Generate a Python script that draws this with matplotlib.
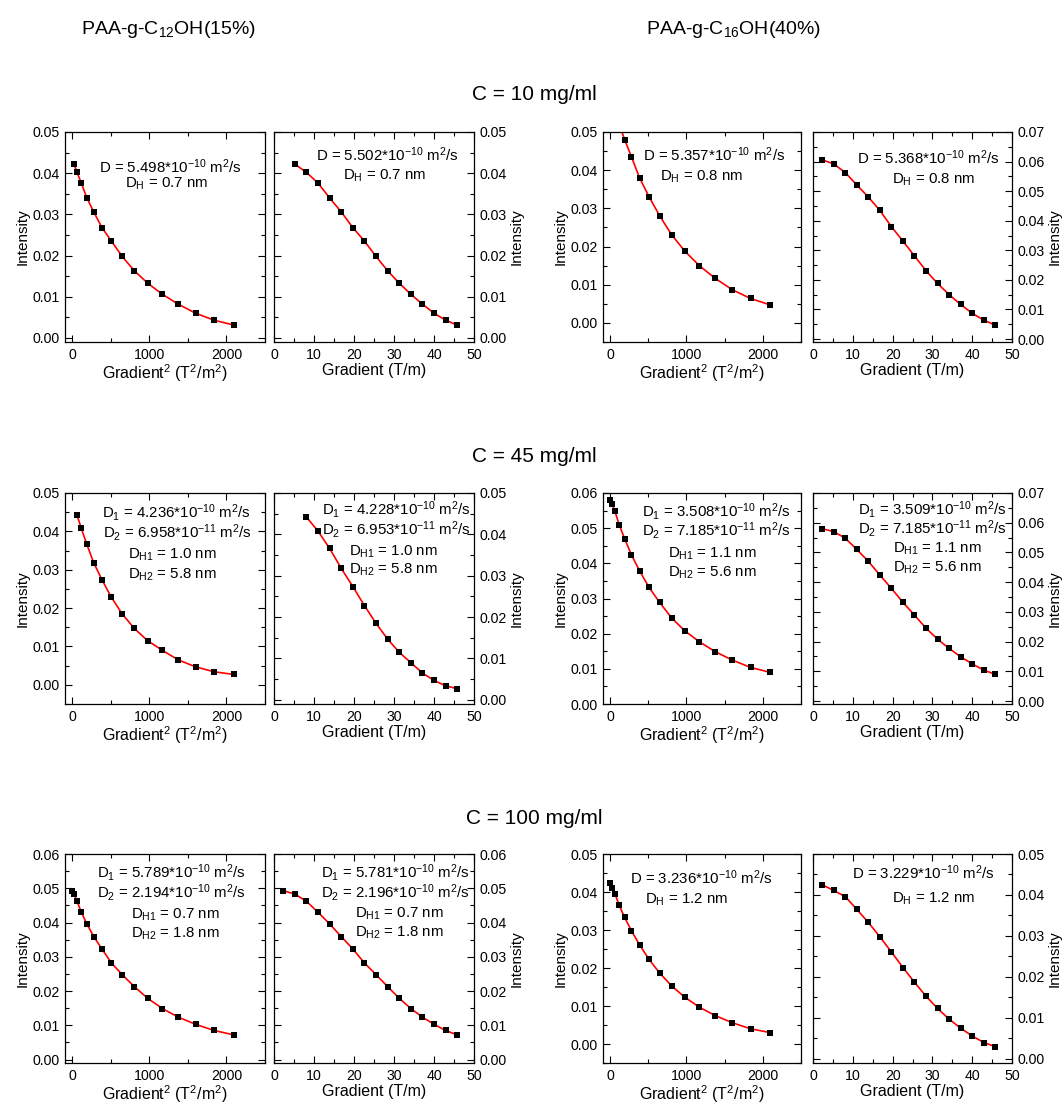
import matplotlib
matplotlib.use("Agg")
import matplotlib.pyplot as plt
from matplotlib.ticker import MultipleLocator, FormatStrFormatter

plt.rcParams["font.family"] = ["Liberation Sans", "DejaVu Sans"]
plt.rcParams["mathtext.fontset"] = "custom"
plt.rcParams["mathtext.rm"] = "Liberation Sans"
plt.rcParams["mathtext.it"] = "Liberation Sans:italic"
plt.rcParams["mathtext.bf"] = "Liberation Sans:bold"

# Gradientstufen (T/m) und Quadrat (T^2/m^2)
grad = [2.3, 5.2, 8.1, 11.0, 13.9, 16.8, 19.7, 22.6, 25.5, 28.4, 31.3, 34.2, 37.1, 40.0, 42.9, 45.8]
grad2 = [5, 27, 66, 121, 193, 282, 388, 511, 650, 807, 980, 1170, 1376, 1600, 1840, 2098]

# Intensitaeten
c12_10 = [0.0422, 0.0402, 0.0376, 0.0340, 0.0306, 0.0268, 0.0235, 0.0198, 0.0163, 0.0133,
          0.0106, 0.0082, 0.0060, 0.0043, 0.0031]            # ab grad[1]
c12_45 = [0.0442, 0.0408, 0.0366, 0.0318, 0.0274, 0.0228, 0.0185, 0.0147, 0.0115, 0.0090,
          0.0065, 0.0047, 0.0034, 0.0027]                    # ab grad[2]
c12_100 = [0.0493, 0.0483, 0.0462, 0.0430, 0.0396, 0.0359, 0.0323, 0.0282, 0.0248, 0.0213,
           0.0179, 0.0149, 0.0124, 0.0103, 0.0085, 0.0072]
c16_10 = [0.0606, 0.0592, 0.0563, 0.0521, 0.0480, 0.0435, 0.0380, 0.0331, 0.0281, 0.0231,
          0.0188, 0.0150, 0.0117, 0.0087, 0.0064, 0.0047]
c16_45 = [0.0580, 0.0570, 0.0548, 0.0510, 0.0470, 0.0424, 0.0379, 0.0332, 0.0289, 0.0245,
          0.0208, 0.0177, 0.0149, 0.0125, 0.0104, 0.0090]
c16_100 = [0.0425, 0.0411, 0.0396, 0.0365, 0.0333, 0.0298, 0.0261, 0.0223, 0.0187, 0.0153,
           0.0123, 0.0097, 0.0075, 0.0056, 0.0040, 0.0030]

W, H = 1062, 1104
fig = plt.figure(figsize=(W / 100, H / 100), dpi=100)


def add_ax(x0, x1, y0, y1):
    return fig.add_axes([x0 / W, 1 - y1 / H, (x1 - x0) / W, (y1 - y0) / H])


def panel(ax, y, start, kind, side, ylim):
    xs = grad2 if kind == "g2" else grad
    xs = xs[start:start + len(y)]
    ax.plot(xs, y, color="red", lw=1.2, zorder=2)
    ax.plot(xs, y, "s", color="black", ms=4.6, mew=0, zorder=3)
    ax.set_ylim(*ylim)
    ax.yaxis.set_major_locator(MultipleLocator(0.01))
    ax.yaxis.set_minor_locator(MultipleLocator(0.005))
    ax.yaxis.set_major_formatter(FormatStrFormatter("%.2f"))
    if kind == "g2":
        ax.set_xlim(-90, 2500)
        ax.xaxis.set_major_locator(MultipleLocator(1000))
        ax.xaxis.set_minor_locator(MultipleLocator(500))
        ax.set_xlabel(r"Gradient$^2$ (T$^2$/m$^2$)", fontsize=11.5, labelpad=0)
    else:
        ax.set_xlim(0, 50)
        ax.xaxis.set_major_locator(MultipleLocator(10))
        ax.xaxis.set_minor_locator(MultipleLocator(5))
        ax.set_xlabel("Gradient (T/m)", fontsize=11.5, labelpad=0.5)
    ax.tick_params(which="both", direction="in", top=True, right=True, labelsize=10.2, width=0.8)
    ax.tick_params(which="major", length=5)
    ax.tick_params(which="minor", length=2.8)
    ax.tick_params(axis="x", pad=4.5)
    ax.tick_params(axis="y", pad=4)
    if side == "right":
        ax.yaxis.set_label_position("right")
        ax.tick_params(axis="y", labelleft=False, labelright=True)
    ax.set_ylabel("Intensity", fontsize=11, labelpad=2)
    for s in ax.spines.values():
        s.set_linewidth(0.9)


def label(lines):
    for txt, x, y in lines:
        fig.text(x / W, 1 - (y + 6) / H, txt, ha="center", va="baseline", fontsize=10.8)


cols = [(65, 265), (274, 474), (603, 801), (813, 1012)]
rows = [(132, 342), (493, 704), (854, 1063)]

# Zeile 1: C = 10 mg/ml
a = add_ax(*cols[0], *rows[0]); panel(a, c12_10, 1, "g2", "left", (-0.001, 0.05))
a = add_ax(*cols[1], *rows[0]); panel(a, c12_10, 1, "g", "right", (-0.001, 0.05))
a = add_ax(*cols[2], *rows[0]); panel(a, c16_10, 0, "g2", "left", (-0.005, 0.05))
a = add_ax(*cols[3], *rows[0]); panel(a, c16_10, 0, "g", "right", (-0.001, 0.07))

# Zeile 2: C = 45 mg/ml
a = add_ax(*cols[0], *rows[1]); panel(a, c12_45, 2, "g2", "left", (-0.005, 0.05))
a = add_ax(*cols[1], *rows[1]); panel(a, c12_45, 2, "g", "right", (-0.001, 0.05))
a = add_ax(*cols[2], *rows[1]); panel(a, c16_45, 0, "g2", "left", (0.0, 0.06))
a = add_ax(*cols[3], *rows[1]); panel(a, c16_45, 0, "g", "right", (-0.001, 0.07))

# Zeile 3: C = 100 mg/ml
a = add_ax(*cols[0], *rows[2]); panel(a, c12_100, 0, "g2", "left", (-0.001, 0.06))
a = add_ax(*cols[1], *rows[2]); panel(a, c12_100, 0, "g", "right", (-0.001, 0.06))
a = add_ax(*cols[2], *rows[2]); panel(a, c16_100, 0, "g2", "left", (-0.005, 0.05))
a = add_ax(*cols[3], *rows[2]); panel(a, c16_100, 0, "g", "right", (-0.001, 0.05))

# Fit-Ergebnisse
label([(r"D = 5.498*10$^{-10}$ m$^2$/s", 170, 167), (r"D$_\mathrm{H}$ = 0.7 nm", 166, 182)])
label([(r"D = 5.502*10$^{-10}$ m$^2$/s", 387, 155), (r"D$_\mathrm{H}$ = 0.7 nm", 384, 174)])
label([(r"D = 5.357*10$^{-10}$ m$^2$/s", 714, 155), (r"D$_\mathrm{H}$ = 0.8 nm", 701, 175)])
label([(r"D = 5.368*10$^{-10}$ m$^2$/s", 928, 158), (r"D$_\mathrm{H}$ = 0.8 nm", 933, 178)])

label([(r"D$_1$ = 4.236*10$^{-10}$ m$^2$/s", 176, 512), (r"D$_2$ = 6.958*10$^{-11}$ m$^2$/s", 177, 532),
       (r"D$_\mathrm{H1}$ = 1.0 nm", 172, 553), (r"D$_\mathrm{H2}$ = 5.8 nm", 172, 573)])
label([(r"D$_1$ = 4.228*10$^{-10}$ m$^2$/s", 396, 509), (r"D$_2$ = 6.953*10$^{-11}$ m$^2$/s", 396, 529),
       (r"D$_\mathrm{H1}$ = 1.0 nm", 393, 550), (r"D$_\mathrm{H2}$ = 5.8 nm", 393, 568)])
label([(r"D$_1$ = 3.508*10$^{-10}$ m$^2$/s", 716, 511), (r"D$_2$ = 7.185*10$^{-11}$ m$^2$/s", 716, 530),
       (r"D$_\mathrm{H1}$ = 1.1 nm", 712, 552), (r"D$_\mathrm{H2}$ = 5.6 nm", 712, 571)])
label([(r"D$_1$ = 3.509*10$^{-10}$ m$^2$/s", 932, 509), (r"D$_2$ = 7.185*10$^{-11}$ m$^2$/s", 932, 528),
       (r"D$_\mathrm{H1}$ = 1.1 nm", 937, 547), (r"D$_\mathrm{H2}$ = 5.6 nm", 937, 566)])

label([(r"D$_1$ = 5.789*10$^{-10}$ m$^2$/s", 171, 872), (r"D$_2$ = 2.194*10$^{-10}$ m$^2$/s", 171, 892),
       (r"D$_\mathrm{H1}$ = 0.7 nm", 175, 913), (r"D$_\mathrm{H2}$ = 1.8 nm", 175, 932)])
label([(r"D$_1$ = 5.781*10$^{-10}$ m$^2$/s", 395, 872), (r"D$_2$ = 2.196*10$^{-10}$ m$^2$/s", 395, 892),
       (r"D$_\mathrm{H1}$ = 0.7 nm", 399, 912), (r"D$_\mathrm{H2}$ = 1.8 nm", 399, 931)])
label([(r"D = 3.236*10$^{-10}$ m$^2$/s", 701, 878), (r"D$_\mathrm{H}$ = 1.2 nm", 686, 898)])
label([(r"D = 3.229*10$^{-10}$ m$^2$/s", 923, 873), (r"D$_\mathrm{H}$ = 1.2 nm", 933, 897)])

# Ueberschriften
fig.text(168 / W, 1 - 30 / H, r"PAA-g-C$_{12}$OH(15%)", ha="center", va="center", fontsize=14)
fig.text(733 / W, 1 - 30 / H, r"PAA-g-C$_{16}$OH(40%)", ha="center", va="center", fontsize=14)
for t, y in [("C = 10 mg/ml", 95), ("C = 45 mg/ml", 457), ("C = 100 mg/ml", 818)]:
    fig.text(534 / W, 1 - y / H, t, ha="center", va="center", fontsize=15)

fig.savefig("out.png", dpi=100)
